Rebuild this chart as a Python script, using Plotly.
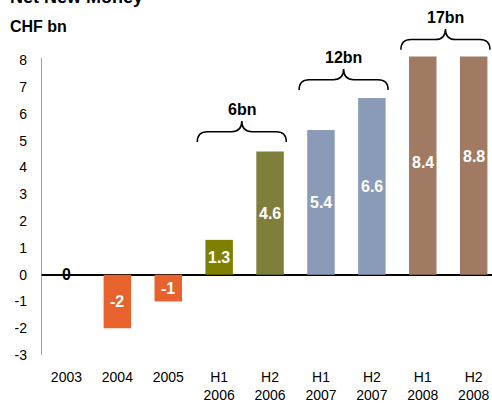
import plotly.graph_objects as go

categories = ["2003", "2004", "2005", "H1<br>2006", "H2<br>2006", "H1<br>2007", "H2<br>2007", "H1<br>2008", "H2<br>2008"]
values = [0, -2, -1, 1.3, 4.6, 5.4, 6.6, 8.4, 8.8]
value_labels = ["0", "-2", "-1", "1.3", "4.6", "5.4", "6.6", "8.4", "8.8"]
colors = ["#E8622E", "#E8622E", "#E8622E", "#808000", "#7F7F3C", "#8A9BB8", "#8A9BB8", "#A07A63", "#A07A63"]
y_ticks = [-3, -2, -1, 0, 1, 2, 3, 4, 5, 6, 7, 8]
y_tick_labels = ["-3", "-2", "-1", "0", "1", "2", "3", "4", "5", "6", "7", "8"]
groups = [
    {"label": "6bn", "start": 3, "end": 4, "base": 4.96},
    {"label": "12bn", "start": 5, "end": 6, "base": 6.9},
    {"label": "17bn", "start": 7, "end": 8, "base": 8.4},
]

axis_top = 8.15
x_idx = list(range(len(categories)))
bar_heights = [min(v, axis_top) for v in values]

FONT = "Liberation Sans, Arial, sans-serif"

fig = go.Figure()
fig.add_trace(go.Bar(
    x=x_idx, y=bar_heights, width=0.54,
    marker=dict(color=colors, line=dict(width=0)),
    hoverinfo="skip", showlegend=False,
))
# vertical axis line (only from -3 to top of scale)
fig.add_trace(go.Scatter(
    x=[-0.5, -0.5], y=[-3, 8.1], mode="lines",
    line=dict(color="#808080", width=1.5), cliponaxis=False,
    hoverinfo="skip", showlegend=False,
))

annotations = []
for i, (v, lab) in enumerate(zip(values, value_labels)):
    annotations.append(dict(
        x=i, y=v / 2, xref="x", yref="y", text="<b>%s</b>" % lab, showarrow=False,
        font=dict(family=FONT, size=16, color="black" if v == 0 else "white"),
        xanchor="center", yanchor="middle",
    ))

shapes = []
for g in groups:
    x0 = g["start"] - 0.43
    x1 = g["end"] + 0.32
    xm = (x0 + x1) / 2
    yb = g["base"]
    ym = yb + 0.38
    yt = yb + 0.78
    dx = 0.2
    path = (f"M {x0},{yb} Q {x0},{ym} {x0+dx},{ym} L {xm-dx},{ym} "
            f"Q {xm},{ym} {xm},{yt} Q {xm},{ym} {xm+dx},{ym} "
            f"L {x1-dx},{ym} Q {x1},{ym} {x1},{yb}")
    shapes.append(dict(type="path", path=path, xref="x", yref="y",
                       line=dict(color="black", width=1.5)))
    annotations.append(dict(
        x=xm, y=yb + 1.2, xref="x", yref="y", text="<b>%s</b>" % g["label"],
        showarrow=False, font=dict(family=FONT, size=16, color="black"),
        xanchor="center", yanchor="middle",
    ))

annotations.append(dict(x=0, xref="paper", xshift=-33, y=1, yref="paper", yshift=-26,
                        text="<b>CHF bn</b>", showarrow=False, xanchor="left", yanchor="middle",
                        font=dict(family=FONT, size=16, color="black")))
annotations.append(dict(x=0, xref="paper", xshift=-33, y=1, yref="paper", yshift=3,
                        text="<b>Net New Money</b>", showarrow=False, xanchor="left", yanchor="middle",
                        font=dict(family=FONT, size=18, color="black")))

fig.update_layout(
    template="none",
    width=492, height=403,
    margin=dict(l=41, r=0, t=0, b=47.6, pad=0),
    paper_bgcolor="white", plot_bgcolor="white",
    font=dict(family=FONT, size=14, color="black"),
    shapes=shapes, annotations=annotations,
    showlegend=False,
)
fig.update_xaxes(
    range=[-0.5, 8.36], tickmode="array", tickvals=x_idx, ticktext=categories,
    showgrid=False, zeroline=False, showline=False, automargin=False,
    ticks="outside", ticklen=9, tickcolor="rgba(0,0,0,0)",
    tickfont=dict(family=FONT, size=14, color="black"),
)
fig.update_yaxes(
    range=[-3, 10.26], tickmode="array", tickvals=y_ticks, ticktext=y_tick_labels,
    showgrid=False, zeroline=True, zerolinecolor="black", zerolinewidth=2,
    showline=False, automargin=False, ticks="", ticklabelstandoff=13,
    tickfont=dict(family=FONT, size=14, color="black"),
)

fig.write_html("out.html", config={"displayModeBar": False},
               post_script="document.body.style.margin='0';document.body.style.padding='0';")
